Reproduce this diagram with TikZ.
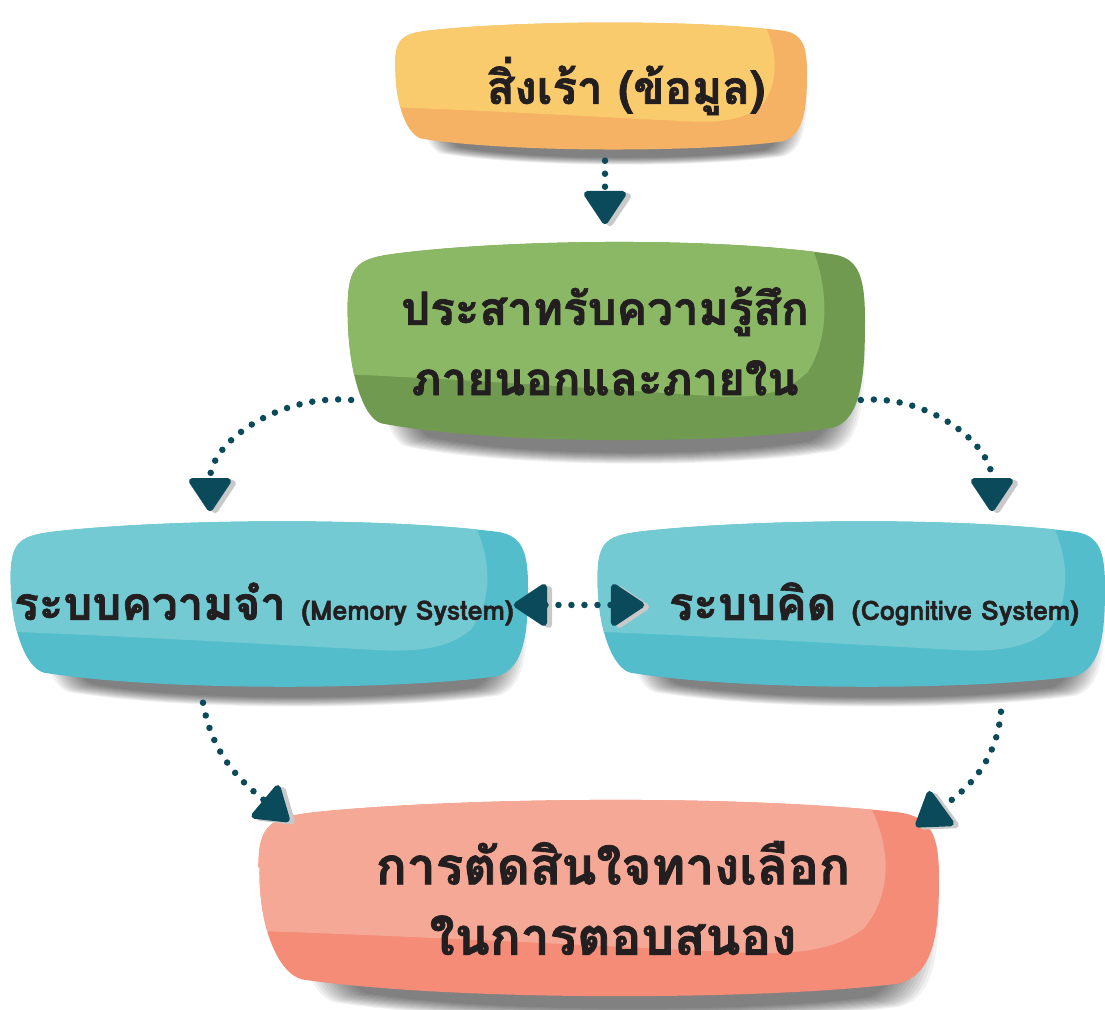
\documentclass[tikz,border=0pt]{standalone}
\usepackage{fontspec}
\usetikzlibrary{arrows.meta,calc,backgrounds}
\newfontfamily\thaifont[Script=Thai, BoldFeatures={FakeBold=1.5}]{Loma}
\definecolor{ink}{HTML}{231F20}
\definecolor{arrowc}{HTML}{0B4A5B}
\definecolor{tipgrey}{HTML}{C9C9C9}
\definecolor{stimL}{HTML}{F9CB6D}
\definecolor{stimD}{HTML}{F5B264}
\definecolor{senseL}{HTML}{8BB865}
\definecolor{senseD}{HTML}{709A50}
\definecolor{sysL}{HTML}{74CAD3}
\definecolor{sysD}{HTML}{53BDCB}
\definecolor{decL}{HTML}{F6A896}
\definecolor{decD}{HTML}{F48C77}
% pillow outline and its lighter top-left part, in unit coordinates
\newcommand{\blobpath}{(-0.99,0.3) .. controls (-0.99,0.75) and (-0.95,0.8) .. (-0.8,0.85)
  .. controls (-0.4,0.98) and (0.4,1.02) .. (0.88,0.84)
  .. controls (0.98,0.8) and (1.0,0.6) .. (1.0,0.2)
  .. controls (1.0,-0.3) and (0.99,-0.75) .. (0.88,-0.84)
  .. controls (0.5,-1.0) and (-0.4,-1.02) .. (-0.86,-0.8)
  .. controls (-0.93,-0.75) and (-0.99,-0.3) .. cycle}
\newcommand{\lightpath}{(-1.2,1.2) -- (0.74,1.2) .. controls (0.86,0.7) and (0.88,0.1) .. (0.78,-0.3)
  .. controls (0.7,-0.5) and (0.6,-0.55) .. (0.45,-0.54)
  .. controls (0,-0.47) and (-0.6,-0.36) .. (-1.2,-0.3) -- cycle}
\newcommand{\blob}[5]{%
  \begin{scope}[on background layer, shift={(#1.center)}, xscale=#2, yscale=#3]
    \foreach \k in {0,...,11}
      \fill[black, opacity=0.055, shift={(0.05,-0.2)}, xscale=0.84+0.01*\k, yscale=0.92+0.01*\k] \blobpath;
    \fill[#5] \blobpath;
    \begin{scope}
      \clip \blobpath;
      \fill[#4] \lightpath;
    \end{scope}
  \end{scope}}

\begin{document}
\begin{tikzpicture}[x=0.01cm, y=0.01cm,
  box/.style={inner sep=0pt, text=ink, align=center,
    font=\thaifont\bfseries\fontsize{13}{20}\selectfont},
  flow/.style={draw=arrowc, line width=0.065cm, line cap=round,
    dash pattern=on 0pt off 0.13cm},
  tipshade/.style={draw=tipgrey, line width=0.065cm, line cap=butt,
    dash pattern=on 0pt off 50cm,
    transform canvas={xshift=0.05cm, yshift=-0.02cm}},
  tip/.style={-{Triangle[length=0.36cm, width=0.46cm, round]}},
  tips/.style={{Triangle[length=0.36cm, width=0.46cm, round]}-{Triangle[length=0.36cm, width=0.46cm, round]}}
]
  \useasboundingbox (0,0) rectangle (1105,-1010);

  % the five boxes, top to bottom
  \node[box, minimum width=4.14cm, minimum height=1.32cm] (stim) at (600,-86)
    {\hspace*{0.52cm}สิ่งเร้า (ข้อมูล)};
  \node[box, minimum width=5.2cm, minimum height=2.06cm] (sense) at (605,-341)
    {ประสาทรับความรู้สึก\\ภายนอกและภายใน};
  \node[box, minimum width=5.2cm, minimum height=1.72cm] (mem) at (268,-604)
    {\hspace*{-0.08cm}ระบบความจำ {\fontsize{7.6}{9}\selectfont (Memory System)}};
  \node[box, minimum width=5.1cm, minimum height=1.72cm] (cog) at (850,-604)
    {\hspace*{0.48cm}ระบบคิด {\fontsize{7.6}{9}\selectfont (Cognitive System)}};
  \node[box, minimum width=6.84cm, minimum height=2.04cm,
    font=\thaifont\bfseries\fontsize{14.6}{20}\selectfont] (dec) at (597,-898)
    {\hspace*{0.32cm}การตัดสินใจทางเลือก\\\hspace*{0.32cm}ในการตอบสนอง};

  \blob{stim}{207}{66}{stimL}{stimD}
  \blob{sense}{260}{103}{senseL}{senseD}
  \blob{mem}{260}{86}{sysL}{sysD}
  \blob{cog}{255}{86}{sysL}{sysD}
  \blob{dec}{342}{102}{decL}{decD}

  % dotted connectors, grey copy of each tip first
  \draw[tipshade, tip] ($(stim.south)+(5,-8)$) -- ($(sense.north)+(0,13)$);
  \draw[flow, tip] ($(stim.south)+(5,-8)$) -- ($(sense.north)+(0,13)$);

  \draw[tipshade, tip] ($(sense.west)+(7,-59)$) to[out=175, in=90] ($(mem.north)+(-58,6)$);
  \draw[flow, tip] ($(sense.west)+(7,-59)$) to[out=175, in=90] ($(mem.north)+(-58,6)$);

  \draw[tipshade, tip] ($(sense.east)+(-5,-59)$) to[out=5, in=90] ($(cog.north)+(142,6)$);
  \draw[flow, tip] ($(sense.east)+(-5,-59)$) to[out=5, in=90] ($(cog.north)+(142,6)$);

  \draw[tipshade, tips] ($(mem.east)+(-15,-1)$) -- ($(cog.west)+(50,-1)$);
  \draw[flow, tips] ($(mem.east)+(-15,-1)$) -- ($(cog.west)+(50,-1)$);

  \draw[tipshade, tip] ($(mem.south)+(-65,-12)$) to[out=-80, in=140] ($(dec.north west)+(35,-26)$);
  \draw[flow, tip] ($(mem.south)+(-65,-12)$) to[out=-80, in=140] ($(dec.north west)+(35,-26)$);

  \draw[tipshade, tip] ($(cog.south)+(151,-21)$) to[out=-95, in=36] ($(dec.north east)+(-24,-31)$);
  \draw[flow, tip] ($(cog.south)+(151,-21)$) to[out=-95, in=36] ($(dec.north east)+(-24,-31)$);
\end{tikzpicture}
\end{document}
